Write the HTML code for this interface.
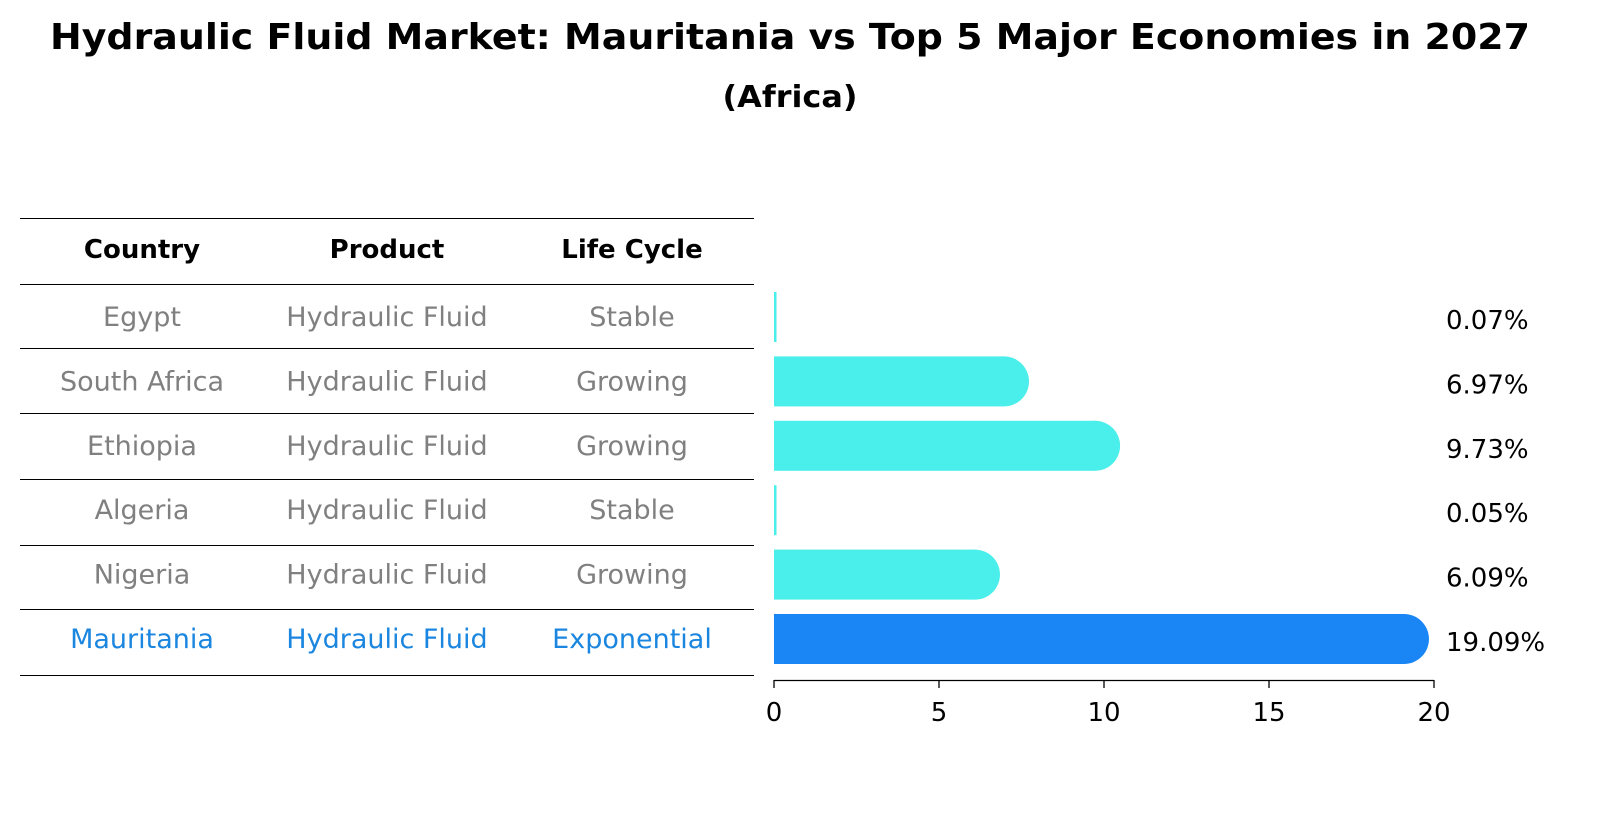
<!DOCTYPE html>
<html><head><meta charset="utf-8"><style>
body{margin:0;background:#fff;font-family:"Liberation Sans","DejaVu Sans",sans-serif}
svg text{font-family:"DejaVu Sans","Liberation Sans",sans-serif}
</style></head><body>
<svg width="1604" height="823" xmlns="http://www.w3.org/2000/svg">
<text x="790" y="49" text-anchor="middle" font-size="36" font-weight="bold" textLength="1480" lengthAdjust="spacingAndGlyphs">Hydraulic Fluid Market: Mauritania vs Top 5 Major Economies in 2027</text>
<text x="790" y="107" text-anchor="middle" font-size="30" font-weight="bold" textLength="135" lengthAdjust="spacingAndGlyphs">(Africa)</text>
<g id="table"></g>
<g id="bars"></g>
<g id="axis"></g>
</svg>
<script>
const countries=["Egypt","South Africa","Ethiopia","Algeria","Nigeria","Mauritania"];
const products=["Hydraulic Fluid","Hydraulic Fluid","Hydraulic Fluid","Hydraulic Fluid","Hydraulic Fluid","Hydraulic Fluid"];
const lifeCycles=["Stable","Growing","Growing","Stable","Growing","Exponential"];
const values=[0.07,6.97,9.73,0.05,6.09,19.09];
const ticks=[0,5,10,15,20];
const NS="http://www.w3.org/2000/svg";
function mk(t,a,p){const e=document.createElementNS(NS,t);for(const k in a)e.setAttribute(k,a[k]);p.appendChild(e);return e;}
const x=v=>774+v*33;
const rowY=i=>317+i*64.4;
const tbl=document.getElementById('table');
const lines=[218,284,348,413,479,545,609,675];
lines.forEach(y=>{const l=mk('line',{x1:20,x2:754,y1:y+0.5,y2:y+0.5,stroke:'#000','stroke-width':1},tbl);

});
const cols=[142,387,632];
["Country","Product","Life Cycle"].forEach((h,j)=>{const t=mk('text',{x:cols[j],y:258,'text-anchor':'middle','font-size':26,'font-weight':'bold'},tbl);t.textContent=h;

});
countries.forEach((c,i)=>{const last=i===countries.length-1;const col=last?'#1a86e0':'#808080';
[c,products[i],lifeCycles[i]].forEach((s,j)=>{const t=mk('text',{x:cols[j],y:rowY(i)+9,'text-anchor':'middle','font-size':27,fill:col},tbl);t.textContent=s;

});});
const bars=document.getElementById('bars');
values.forEach((v,i)=>{const last=i===values.length-1;const col=last?'#1a86f5':'#4aeeea';const yc=rowY(i);
const w=Math.max(x(v)-x(0),2.5);
const r=mk('rect',{x:x(0),y:yc-25,width:w,height:50,fill:col},bars);


if(v>1){const c=mk('circle',{cx:x(v),cy:yc,r:25,fill:col},bars);

}
const t=mk('text',{x:1446,y:yc+12,'font-size':26},bars);t.textContent=v.toFixed(2)+'%';

});
const ax=document.getElementById('axis');
mk('line',{x1:x(0),x2:x(20),y1:680.5,y2:680.5,stroke:'#000','stroke-width':1.3},ax);
ticks.forEach(v=>{mk('line',{x1:x(v),x2:x(v),y1:680,y2:688,stroke:'#000','stroke-width':1.3},ax);
const t=mk('text',{x:x(v),y:721,'text-anchor':'middle','font-size':26},ax);t.textContent=v;

});
</script>
</body></html>
